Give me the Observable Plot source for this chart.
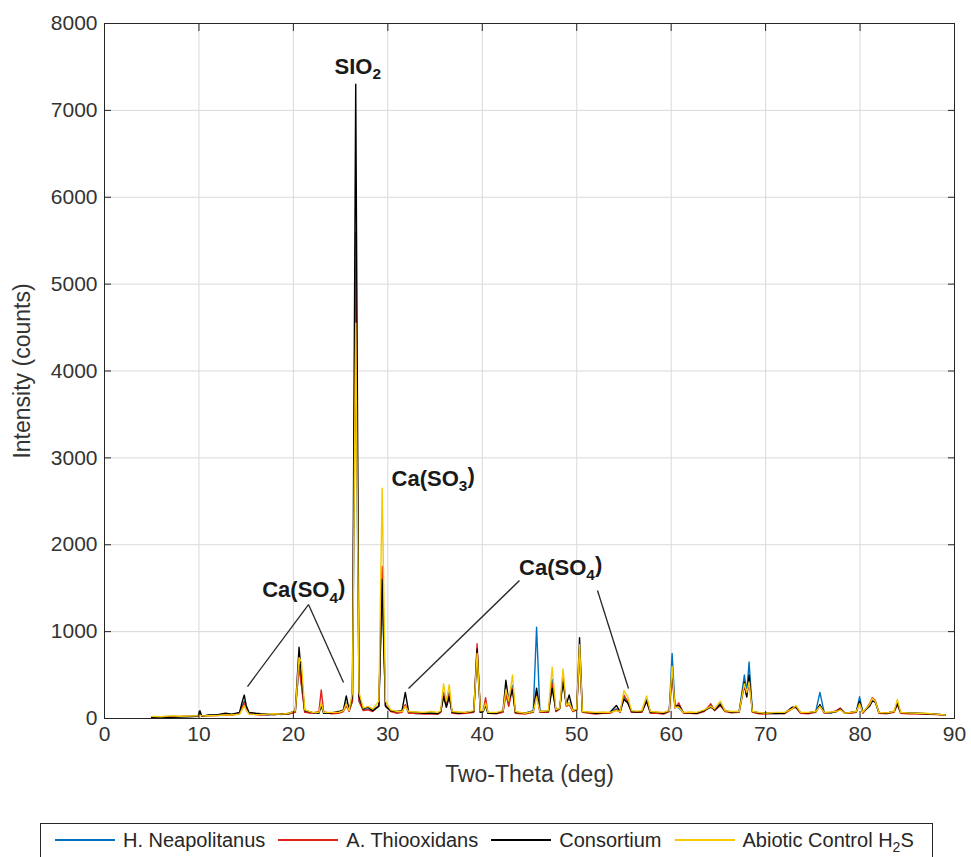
<!DOCTYPE html>
<html>
<head>
<meta charset="utf-8">
<script src="https://cdn.jsdelivr.net/npm/d3@7"></script>
<script src="https://cdn.jsdelivr.net/npm/@observablehq/plot@0.6"></script>
<style>
  html, body { margin: 0; padding: 0; background: #fff; overflow: hidden; }
  body { position: relative; width: 971px; height: 857px; font-family: "Liberation Sans", Arial, Helvetica, sans-serif; }
  #legend { position: absolute; left: 40px; top: 823px; width: 893px; height: 40px; box-sizing: border-box;
            border: 1px solid #262626; display: flex; align-items: flex-start; padding: 4px 0 0 14px; font-size: 20px; color: #262626;
            white-space: nowrap; overflow: hidden; }
  .item { display: flex; align-items: center; height: 24px; margin-right: 13px; flex-shrink: 0; white-space: nowrap; }
  .sw { width: 60px; height: 2px; margin-right: 8px; flex-shrink: 0; }
  sub { font-size: 70%; vertical-align: -0.35em; line-height: 0; }
</style>
</head>
<body>
<div id="chart"></div>
<div id="legend"></div>
<script>
// ---- data ----
const seriesNames = ["H. Neapolitanus", "A. Thiooxidans", "Consortium", "Abiotic Control H_2S"];
const seriesColors = ["#0072BD", "#E3211C", "#000000", "#F6C800"];

const twoTheta = [
  5.0, 6.0, 7.0, 8.0, 9.0, 9.9, 10.1, 10.3, 11.0, 12.0, 12.8, 13.5, 14.3, 14.6, 14.8, 15.0, 15.3, 16.0, 16.5, 17.3,
  18.0, 18.8, 19.5, 20.2, 20.6, 20.85, 21.2, 22.0, 22.7, 22.95, 23.2, 24.0, 24.8, 25.3, 25.6, 25.9, 26.25, 26.6, 26.95, 27.4,
  27.9, 28.4, 29.05, 29.4, 29.75, 30.3, 31.0, 31.5, 31.85, 32.2, 33.0, 33.8, 34.6, 35.3, 35.6, 35.9, 36.2, 36.5, 36.8, 37.5,
  38.3, 39.1, 39.45, 39.8, 40.1, 40.35, 40.6, 41.5, 42.2, 42.5, 42.8, 43.2, 43.5, 44.5, 45.4, 45.75, 46.1, 47.0, 47.4, 47.8,
  48.2, 48.55, 48.9, 49.2, 49.6, 50.0, 50.3, 50.6, 51.3, 52.0, 52.8, 53.5, 54.2, 54.6, 55.0, 55.4, 55.8, 56.4, 56.9, 57.4,
  57.8, 58.5, 59.2, 59.8, 60.1, 60.4, 60.8, 61.3, 62.0, 62.7, 63.5, 64.2, 64.6, 65.2, 65.7, 66.4, 67.2, 67.75, 68.0, 68.25,
  68.6, 69.3, 70.0, 71.0, 72.0, 72.8, 73.2, 73.7, 74.5, 75.3, 75.75, 76.2, 76.9, 77.5, 77.9, 78.4, 79.0, 79.6, 79.95, 80.3,
  81.0, 81.3, 81.6, 82.0, 82.8, 83.6, 83.95, 84.3, 85.0, 86.0, 87.0, 88.0, 89.0
];

const hNeapolitanus = [
  20, 22, 25, 22, 30, 30, 60, 30, 35, 40, 38, 45, 60, 150, 200, 120, 60, 50, 45, 40,
  50, 45, 60, 80, 600, 400, 80, 60, 70, 150, 70, 60, 70, 90, 180, 90, 200, 4400, 200, 100,
  110, 90, 150, 1500, 150, 90, 70, 80, 150, 70, 55, 60, 65, 60, 80, 300, 150, 300, 70, 60,
  65, 80, 700, 70, 80, 150, 60, 60, 80, 300, 150, 380, 70, 60, 90, 1050, 80, 80, 450, 90,
  120, 450, 150, 180, 90, 100, 800, 80, 65, 60, 65, 70, 110, 80, 250, 200, 80, 75, 80, 220,
  70, 65, 60, 90, 750, 150, 120, 70, 65, 60, 90, 150, 100, 180, 90, 70, 80, 500, 300, 650,
  80, 60, 60, 55, 60, 120, 140, 70, 60, 80, 300, 70, 65, 80, 110, 60, 65, 80, 250, 70,
  150, 220, 200, 70, 60, 80, 180, 70, 60, 60, 55, 50, 40
];

const aThiooxidans = [
  15, 18, 20, 24, 25, 25, 50, 25, 30, 35, 42, 40, 55, 130, 180, 110, 55, 45, 40, 45,
  45, 50, 50, 70, 620, 380, 70, 60, 80, 330, 80, 55, 60, 80, 150, 80, 200, 5600, 200, 90,
  100, 80, 150, 1750, 150, 80, 60, 70, 160, 60, 60, 50, 55, 50, 70, 280, 140, 280, 60, 55,
  60, 70, 860, 70, 90, 240, 60, 55, 70, 280, 140, 350, 60, 50, 70, 300, 70, 70, 400, 80,
  110, 500, 140, 160, 80, 100, 750, 70, 60, 50, 60, 60, 100, 70, 270, 190, 70, 70, 70, 200,
  60, 60, 50, 80, 500, 120, 180, 60, 60, 55, 80, 170, 90, 150, 80, 65, 70, 380, 250, 450,
  70, 55, 50, 60, 55, 110, 130, 60, 55, 70, 150, 60, 70, 90, 120, 60, 60, 70, 180, 60,
  170, 240, 210, 60, 55, 70, 160, 60, 55, 50, 50, 45, 40
];

const consortium = [
  10, 14, 15, 18, 20, 25, 90, 25, 40, 45, 60, 50, 70, 200, 270, 150, 70, 60, 55, 50,
  45, 55, 55, 90, 820, 500, 90, 70, 60, 150, 60, 65, 80, 100, 260, 100, 250, 7300, 250, 110,
  130, 90, 140, 1600, 140, 90, 80, 90, 300, 80, 70, 60, 60, 55, 80, 250, 130, 250, 70, 60,
  70, 80, 800, 70, 80, 160, 60, 60, 90, 440, 200, 330, 70, 60, 80, 350, 80, 80, 350, 90,
  120, 420, 160, 270, 90, 100, 930, 80, 70, 60, 65, 70, 150, 80, 220, 180, 80, 75, 80, 200,
  70, 70, 60, 90, 550, 140, 150, 70, 65, 60, 90, 130, 100, 160, 90, 70, 80, 420, 250, 500,
  80, 65, 60, 60, 60, 130, 130, 70, 65, 80, 160, 70, 65, 80, 110, 60, 70, 80, 200, 70,
  140, 200, 190, 70, 60, 80, 170, 70, 65, 60, 55, 50, 40
];

const abioticControl = [
  25, 20, 30, 26, 28, 30, 40, 30, 32, 35, 40, 40, 50, 110, 150, 100, 50, 45, 45, 50,
  55, 50, 60, 90, 700, 650, 100, 70, 70, 180, 70, 70, 70, 90, 170, 90, 300, 4550, 300, 120,
  140, 110, 200, 2650, 200, 100, 80, 80, 140, 80, 75, 70, 80, 70, 90, 400, 200, 390, 80, 75,
  70, 90, 750, 90, 90, 180, 70, 70, 90, 330, 200, 500, 80, 60, 80, 250, 80, 90, 590, 100,
  120, 570, 150, 180, 90, 110, 850, 80, 75, 70, 75, 70, 90, 80, 320, 250, 90, 85, 90, 260,
  80, 75, 70, 90, 600, 130, 130, 70, 75, 70, 100, 140, 110, 200, 90, 80, 80, 400, 300, 420,
  80, 70, 60, 70, 70, 110, 150, 70, 70, 80, 140, 70, 75, 80, 100, 60, 70, 80, 170, 70,
  160, 230, 200, 70, 65, 80, 220, 70, 65, 60, 60, 50, 40
];

const seriesValues = [hNeapolitanus, aThiooxidans, consortium, abioticControl];

const xTicks = [0, 10, 20, 30, 40, 50, 60, 70, 80, 90];
const yTicks = [0, 1000, 2000, 3000, 4000, 5000, 6000, 7000, 8000];

// annotations (data coordinates)
const annotText = ["SIO_2", "Ca(SO_3)", "Ca(SO_4)", "Ca(SO_4)"];
const annotX = [24.35, 30.4, 16.7, 43.9];
const annotY = [7500, 2760, 1475, 1738];

const leaderX1 = [21.6, 21.6, 43.94, 52.2];
const leaderY1 = [1312, 1312, 1588, 1473];
const leaderX2 = [15.14, 25.31, 32.19, 55.48];
const leaderY2 = [368, 414, 345, 345];

// ---- chart ----
const lineMarks = seriesValues.map((vals, i) =>
  Plot.line(vals, {x: twoTheta, y: d => d, stroke: seriesColors[i], strokeWidth: 1.4})
);

const chart = Plot.plot({
  width: 971,
  height: 820,
  marginLeft: 104,
  marginRight: 17,
  marginTop: 23,
  marginBottom: 102,
  style: {fontFamily: "'Liberation Sans', Arial, Helvetica, sans-serif", fontSize: "21px", color: "#333", background: "#fff", overflow: "visible"},
  x: {domain: [0, 90]},
  y: {domain: [0, 8000]},
  marks: [
    Plot.gridX(xTicks, {stroke: "#d9d9d9", strokeOpacity: 1}),
    Plot.gridY(yTicks, {stroke: "#d9d9d9", strokeOpacity: 1}),
    ...lineMarks,
    Plot.link(leaderX1, {x1: leaderX1, y1: leaderY1, x2: leaderX2, y2: leaderY2, stroke: "#262626", strokeWidth: 1.3}),
    Plot.text(annotText, {x: annotX, y: annotY, text: d => d, textAnchor: "start", fontWeight: "bold", fontSize: 22, fill: "#1a1a1a"}),
    Plot.frame({stroke: "#262626", strokeWidth: 1}),
    Plot.axisX(xTicks, {anchor: "bottom", tickSize: 0, tickPadding: 8, tickFormat: "d", label: null, fill: "#333"}),
    Plot.axisX(xTicks, {anchor: "bottom", tickSize: -7, fill: "none", label: null, stroke: "#262626"}),
    Plot.axisX(xTicks, {anchor: "top", tickSize: -7, fill: "none", label: null, stroke: "#262626"}),
    Plot.axisY(yTicks, {anchor: "left", tickSize: 0, tickPadding: 7, tickFormat: "d", label: null, fill: "#333"}),
    Plot.axisY(yTicks, {anchor: "left", tickSize: -7, fill: "none", label: null, stroke: "#262626"}),
    Plot.axisY(yTicks, {anchor: "right", tickSize: -7, fill: "none", label: null, stroke: "#262626"}),
    Plot.text(["Two-Theta (deg)"], {frameAnchor: "bottom", textAnchor: "middle", dy: 63, fontSize: 23, fill: "#333"}),
    Plot.text(["Intensity (counts)"], {frameAnchor: "left", textAnchor: "middle", dx: -82, rotate: -90, fontSize: 23, fill: "#333"})
  ]
});

// subscripts in annotation labels
d3.select(chart).selectAll("text").each(function() {
  const t = this.textContent;
  const m = t.match(/^(.*?)_(\w)(.*)$/);
  if (!m) return;
  const sel = d3.select(this);
  sel.text(null);
  sel.append("tspan").text(m[1]);
  sel.append("tspan").attr("font-size", "70%").attr("dy", "0.35em").text(m[2]);
  if (m[3]) sel.append("tspan").attr("dy", "-0.35em").text(m[3]);
});

document.getElementById("chart").appendChild(chart);

// ---- legend ----
const legend = d3.select("#legend");
seriesNames.forEach((name, i) => {
  const item = legend.append("div").attr("class", "item");
  item.append("div").attr("class", "sw").style("background", seriesColors[i]);
  const m = name.match(/^(.*?)_(\w)(.*)$/);
  const label = item.append("span");
  if (m) {
    label.append("span").text(m[1]);
    label.append("sub").text(m[2]);
    label.append("span").text(m[3]);
  } else {
    label.text(name);
  }
});
</script>
</body>
</html>
